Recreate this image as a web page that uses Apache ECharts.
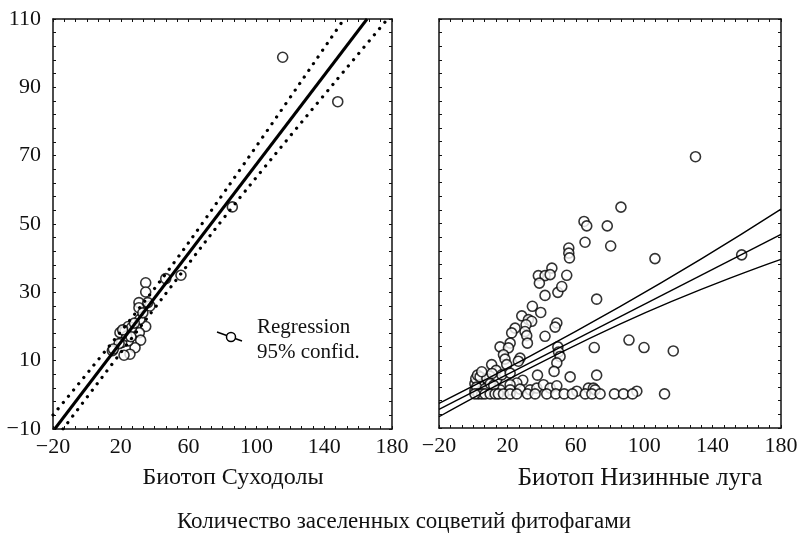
<!DOCTYPE html>
<html>
<head>
<meta charset="utf-8">
<script src="https://cdn.jsdelivr.net/npm/echarts@6/dist/echarts.min.js"></script>
<style>
  html, body { margin: 0; background: #fff; }
  #main { width: 803px; height: 537px; }
</style>
</head>
<body>
<div id="main"></div>
<script>
// оси (одинаковые для обеих панелей)
var xMin = -20, xMax = 180, xStep = 40;
var yMin = -10, yMax = 110, yStep = 20;

// Биотоп Суходолы — точки
var sukhodolyPoints = [
  [115.5, 98.8], [148, 85.8], [85.8, 55], [55.5, 35], [46.5, 34],
  [34.7, 32.8], [34.7, 30.1], [37.2, 26], [30.7, 27], [30.7, 25.5],
  [34.7, 20], [31.3, 22.1], [30.9, 18.2], [31.7, 16], [28.4, 13.8],
  [24.4, 15.8], [24.4, 20], [25.4, 11.9], [21.9, 11.6], [19.5, 18.2],
  [20.5, 15.3], [15, 12.9], [19, 15], [22.5, 18.7], [35.9, 27],
  [26.4, 19.7], [23.5, 17.2], [21.1, 19], [15.6, 13.4], [33, 24],
  [28, 21], [26, 17]
];
// регрессия и 95% доверительные границы (точки)
var sukhodolyFit = [[-19, -10], [165.3, 110]];
var sukhodolyUpper = [[-20, -5.9], [38.2, 30], [82, 60], [151.3, 109.7]];
var sukhodolyLower = [[-14.1, -10], [47.1, 30], [94, 60], [176.9, 109.7]];

// Биотоп Низинные луга — точки
var nizinaPoints = [
  [130, 69.6], [86.4, 54.8], [64.8, 50.6], [66.4, 49.3], [78.4, 49.3],
  [65.4, 44.5], [80.4, 43.4], [106.3, 39.7], [157, 40.8], [72.2, 27.8],
  [91.1, 15.8], [99.9, 13.6], [117, 12.6], [70.8, 13.6], [72.2, 5.5],
  [38.1, 34.7], [42, 34.7], [46, 36.9], [45, 35], [38.7, 32.5],
  [42, 28.9], [49.5, 29.8], [51.8, 31.5], [54.7, 34.8], [55.9, 42.8],
  [55.9, 41.3], [56.3, 39.9], [34.6, 25.7], [39.5, 23.9], [28.4, 22.9],
  [32.3, 21.8], [34.2, 21.3], [30.9, 20.3], [30.3, 18.3], [42, 16.9],
  [31.3, 17.1], [31.7, 14.9], [48.9, 20.8], [47.9, 19.6], [24.5, 19.3],
  [22.5, 17.9], [21.6, 14.9], [15.7, 13.8], [20.6, 13.5], [27.4, 10.5],
  [26.4, 9.6], [17.7, 11.5], [18.6, 10.2], [10.8, 8.6], [13.4, 6.9],
  [19.6, 8.6], [9.9, 5.2], [6.9, 4.2], [4, 3.7], [13.8, 4.2],
  [16.7, 5.6], [21.6, 6.1], [49.5, 13.8], [49.9, 12.3], [50.8, 11],
  [48.9, 9.1], [47.3, 6.6], [56.7, 5], [37.6, 5.5], [29, 4],
  [25.5, 3.2], [21.6, 2.7], [4, 1.7], [7.9, 1.4], [11.8, 1.2],
  [15.7, 1.2], [21.6, 1.2], [27.4, 1.4], [33.3, 1.2], [37.2, 1.7],
  [41.1, 2.7], [45, 1.7], [48.9, 2.4], [60.6, 0.8], [67.4, 1.7],
  [70.3, 1.7], [71.3, 1.2], [95.7, 0.8], [3, 2.5], [6, 3], [9, 2.8],
  [1, 1], [1, 3], [1.5, 4.5], [2, 2], [2.5, 5.5], [4, 5], [7, 1.5],
  [8, 4.5], [10, 3], [12, 2.5], [5, 6.5], [11, 6],
  [3, 0], [5, 0], [6.9, 0], [9.9, 0], [12.8, 0], [14.7, 0], [17.7, 0],
  [21.6, 0], [25.5, 0], [31.7, 0], [36.2, 0], [43, 0], [48.3, 0],
  [53.2, 0], [58, 0], [65.5, 0], [69.4, 0], [74.2, 0], [82.6, 0],
  [87.9, 0], [93.2, 0], [111.9, 0], [1, 0]
];
var nizinaFit = [[-20, -4.5], [180, 46.8]];
var nizinaUpper = [[-20, -2.8], [85.8, 25.6], [180, 54.2]];
var nizinaLower = [[-20, -6.7], [85.8, 20.5], [180, 39.5]];

var FONT = 'Liberation Serif';
var INK = '#111';

var myChart = echarts.init(document.getElementById('main'));

function minus(v) { return String(v).replace('-', '\u2212'); }

function xAx(grid, pos, labels) {
  return {
    type: 'value', gridIndex: grid, position: pos,
    min: xMin, max: xMax, interval: xStep,
    axisLine: { show: true, onZero: false, lineStyle: { color: INK, width: 1.5 } },
    axisTick: { show: true, inside: true, length: 3, lineStyle: { color: INK } },
    minorTick: { show: true, splitNumber: 6, length: 3, lineStyle: { color: INK } },
    splitLine: { show: false },
    axisLabel: {
      show: labels, margin: 7, color: INK, fontFamily: FONT, fontSize: 22,
      showMinLabel: true, showMaxLabel: true, formatter: minus
    }
  };
}
function yAx(grid, pos, labels) {
  return {
    type: 'value', gridIndex: grid, position: pos,
    min: yMin, max: yMax, interval: yStep,
    axisLine: { show: true, onZero: false, lineStyle: { color: INK, width: 1.5 } },
    axisTick: { show: true, inside: true, length: 3, lineStyle: { color: INK } },
    minorTick: { show: true, splitNumber: 5, length: 3, lineStyle: { color: INK } },
    splitLine: { show: false },
    axisLabel: {
      show: labels, margin: 12, color: INK, fontFamily: FONT, fontSize: 22,
      showMinLabel: true, showMaxLabel: true, formatter: minus
    }
  };
}
function dots(data, xi, yi) {
  return {
    type: 'scatter', xAxisIndex: xi, yAxisIndex: yi, data: data,
    symbol: 'circle', symbolSize: 10, z: 2,
    itemStyle: { color: '#fff', borderColor: '#000', borderWidth: 1.6 }
  };
}
function line(data, xi, yi, style, smooth) {
  return {
    type: 'line', xAxisIndex: xi, yAxisIndex: yi, data: data,
    showSymbol: false, clip: true, z: 3, silent: true, smooth: smooth || false,
    lineStyle: style
  };
}

var option = {
  animation: false,
  grid: [
    { left: 53, top: 19, width: 339, height: 410 },
    { left: 439, top: 19, width: 342, height: 409 }
  ],
  xAxis: [xAx(0, 'bottom', true), xAx(0, 'top', false), xAx(1, 'bottom', true), xAx(1, 'top', false)],
  yAxis: [yAx(0, 'left', true), yAx(0, 'right', false), yAx(1, 'left', false), yAx(1, 'right', false)],
  series: [
    dots(sukhodolyPoints, 0, 0),
    line(sukhodolyFit, 0, 0, { color: '#000', width: 3 }),
    line(sukhodolyUpper, 0, 0, { color: '#000', width: 3.2, type: [0.1, 8], cap: 'round' }, 0.4),
    line(sukhodolyLower, 0, 0, { color: '#000', width: 3.2, type: [0.1, 8], cap: 'round' }, 0.4),
    dots(nizinaPoints, 2, 2),
    line(nizinaFit, 2, 2, { color: '#000', width: 1.4 }),
    line(nizinaUpper, 2, 2, { color: '#000', width: 1.4 }, 0.5),
    line(nizinaLower, 2, 2, { color: '#000', width: 1.4 }, 0.5)
  ],
  graphic: [
    // легенда
    { type: 'line', shape: { x1: 217, y1: 332, x2: 242, y2: 341 }, style: { stroke: '#000', lineWidth: 1.5 } },
    { type: 'circle', shape: { cx: 231, cy: 337, r: 4.5 }, style: { fill: '#fff', stroke: '#000', lineWidth: 1.5 } },
    { type: 'text', left: 257, top: 317, style: { text: 'Regression', font: '21px "Liberation Serif"', fill: INK } },
    { type: 'text', left: 257, top: 342, style: { text: '95% confid.', font: '21px "Liberation Serif"', fill: INK } },
    // подписи осей
    { type: 'text', x: 233, y: 478, style: { text: 'Биотоп Суходолы', font: '24px "Liberation Serif"', fill: INK, align: 'center', verticalAlign: 'middle' } },
    { type: 'text', x: 640, y: 478, style: { text: 'Биотоп Низинные луга', font: '25px "Liberation Serif"', fill: INK, align: 'center', verticalAlign: 'middle' } },
    { type: 'text', x: 404, y: 522, style: { text: 'Количество заселенных соцветий фитофагами', font: '23px "Liberation Serif"', fill: INK, align: 'center', verticalAlign: 'middle' } }
  ]
};
myChart.setOption(option);
</script>
</body>
</html>
